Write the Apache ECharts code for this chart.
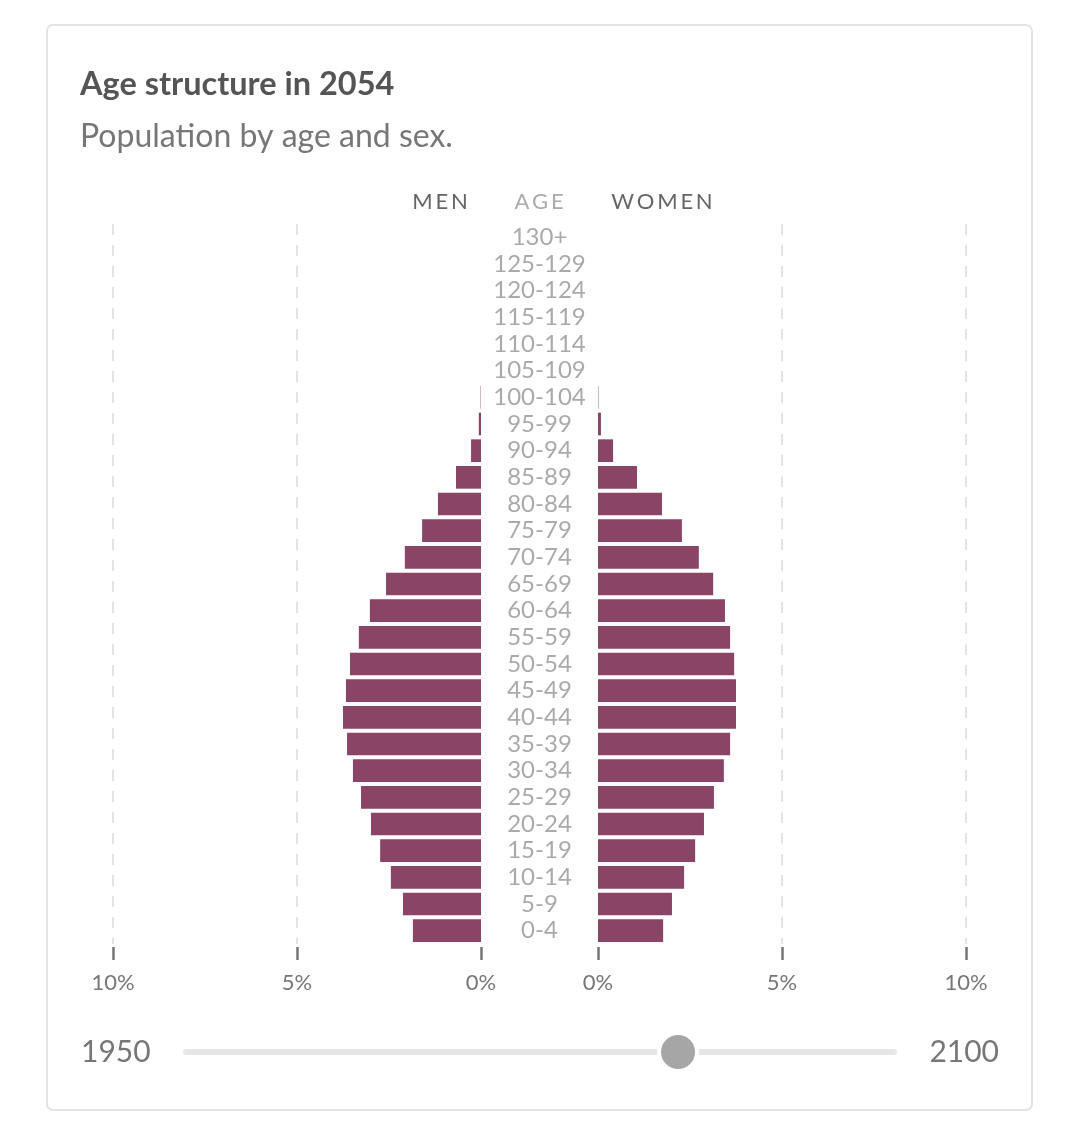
<!DOCTYPE html>
<html lang="en">
<head>
    <meta charset="UTF-8">
    <title>Age structure</title>
    <script src="https://cdn.jsdelivr.net/npm/echarts/dist/echarts.min.js"></script>
    <style>
        body {
            margin: 0;
            padding: 0;
            background: #fff;
        }
        #chart {
            width: 1080px;
            height: 1133px;
        }
    </style>
</head>
<body>
    <div id="chart"></div>

    <script>
        // age groups, bottom to top
        const ageGroups = ['0-4', '5-9', '10-14', '15-19', '20-24', '25-29', '30-34', '35-39',
            '40-44', '45-49', '50-54', '55-59', '60-64', '65-69', '70-74', '75-79', '80-84',
            '85-89', '90-94', '95-99', '100-104', '105-109', '110-114', '115-119', '120-124',
            '125-129', '130+'];

        // share of total population, %
        const men = [1.85, 2.12, 2.45, 2.74, 2.99, 3.26, 3.48, 3.64, 3.75, 3.67, 3.56, 3.32,
            3.02, 2.58, 2.07, 1.60, 1.17, 0.68, 0.27, 0.06, 0.01, 0, 0, 0, 0, 0, 0];
        const women = [1.77, 2.01, 2.34, 2.64, 2.88, 3.15, 3.42, 3.59, 3.75, 3.75, 3.70, 3.59,
            3.45, 3.13, 2.74, 2.28, 1.74, 1.06, 0.41, 0.08, 0.01, 0, 0, 0, 0, 0, 0];

        const axisTicks = [0, 5, 10];
        const startYear = 1950;
        const endYear = 2100;
        const currentYear = 2054;

        const barColor = '#8a4466';
        const font = 'Lato, "Noto Sans", sans-serif';

        const chart = echarts.init(document.getElementById('chart'));

        // slider geometry
        const trackLeft = 183, trackRight = 897, trackY = 1052;
        const knobX = trackLeft + (currentYear - startYear) / (endYear - startYear) * (trackRight - trackLeft);

        function valueAxis(gridIndex, inverse) {
            return {
                type: 'value',
                gridIndex: gridIndex,
                inverse: inverse,
                min: axisTicks[0],
                max: axisTicks[axisTicks.length - 1],
                interval: axisTicks[1] - axisTicks[0],
                position: 'bottom',
                offset: 3,
                axisLine: { show: false },
                axisTick: { show: true, length: 13, lineStyle: { color: '#777', width: 2.5 } },
                axisLabel: {
                    formatter: '{value}%',
                    color: '#777',
                    fontSize: 22,
                    fontFamily: font,
                    margin: 25
                },
                splitLine: {
                    show: true,
                    showMinLine: false,
                    lineStyle: { color: '#dcdcdc', width: 1.5, type: [11, 10] }
                }
            };
        }

        const option = {
            animation: false,
            title: [{
                text: 'Age structure in ' + currentYear,
                left: 80,
                top: 68,
                padding: 0,
                textStyle: { fontSize: 32.5, fontWeight: 'bold', color: '#555', fontFamily: font }
            }, {
                text: 'Population by age and sex.',
                left: 80,
                top: 121,
                padding: 0,
                textStyle: { fontSize: 32, fontWeight: 'normal', color: '#777', fontFamily: font }
            }],
            grid: [
                { left: 113, right: 599, top: 224, height: 720 },
                { left: 598, right: 114, top: 224, height: 720 }
            ],
            xAxis: [valueAxis(0, true), valueAxis(1, false)],
            yAxis: [{
                type: 'category',
                gridIndex: 0,
                data: ageGroups,
                position: 'right',
                axisLine: { show: false },
                axisTick: { show: false },
                axisLabel: { show: false },
                splitLine: { show: false }
            }, {
                type: 'category',
                gridIndex: 1,
                data: ageGroups,
                position: 'left',
                axisLine: { show: false },
                axisTick: { show: false },
                axisLabel: {
                    align: 'center',
                    margin: 58.5,
                    color: '#aaa',
                    fontSize: 24,
                    fontFamily: font,
                    interval: 0
                },
                splitLine: { show: false }
            }],
            series: [{
                name: 'Men',
                type: 'bar',
                xAxisIndex: 0,
                yAxisIndex: 0,
                data: men,
                barCategoryGap: '15%',
                itemStyle: { color: barColor }
            }, {
                name: 'Women',
                type: 'bar',
                xAxisIndex: 1,
                yAxisIndex: 1,
                data: women,
                barCategoryGap: '15%',
                itemStyle: { color: barColor }
            }],
            graphic: [
                // card outline
                {
                    type: 'rect',
                    shape: { x: 47, y: 25, width: 985, height: 1085, r: 6 },
                    style: { fill: 'none', stroke: '#e3e3e3', lineWidth: 2 },
                    z: -1
                },
                // column headers
                {
                    type: 'text', x: 440, y: 202,
                    style: { text: 'M\u2009E\u2009N', fill: '#666', font: '22px ' + font, textAlign: 'center', textVerticalAlign: 'middle' }
                },
                {
                    type: 'text', x: 539, y: 202,
                    style: { text: 'A\u2009G\u2009E', fill: '#aaa', font: '22px ' + font, textAlign: 'center', textVerticalAlign: 'middle' }
                },
                {
                    type: 'text', x: 662, y: 202,
                    style: { text: 'W\u2009O\u2009M\u2009E\u2009N', fill: '#666', font: '22px ' + font, textAlign: 'center', textVerticalAlign: 'middle' }
                },
                // year slider
                {
                    type: 'text', x: 81, y: trackY,
                    style: { text: String(startYear), fill: '#777', font: '30px ' + font, textAlign: 'left', textVerticalAlign: 'middle' }
                },
                {
                    type: 'text', x: 999, y: trackY,
                    style: { text: String(endYear), fill: '#777', font: '30px ' + font, textAlign: 'right', textVerticalAlign: 'middle' }
                },
                {
                    type: 'rect',
                    shape: { x: trackLeft, y: trackY - 3, width: trackRight - trackLeft, height: 6, r: 3 },
                    style: { fill: '#e6e6e6' }
                },
                {
                    type: 'circle',
                    shape: { cx: knobX, cy: trackY, r: 19 },
                    style: { fill: '#a6a6a6', stroke: '#fff', lineWidth: 4 },
                    z: 10
                }
            ]
        };

        chart.setOption(option);
    </script>
</body>
</html>
